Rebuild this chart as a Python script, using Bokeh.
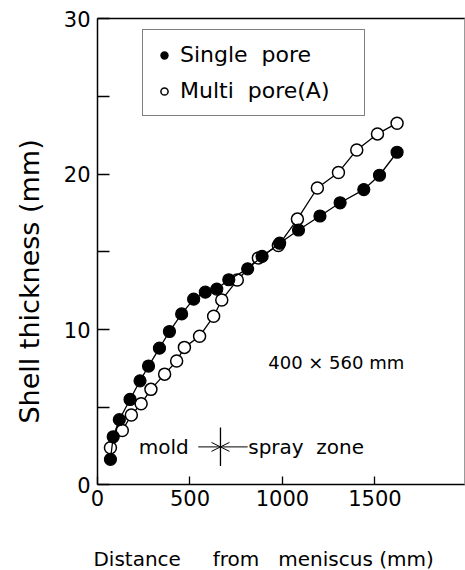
from math import pi
from bokeh.plotting import figure
from bokeh.models import (FixedTicker, Legend, LegendItem, Label, Arrow,
                          OpenHead, Range1d, LinearAxis)
from bokeh.embed import file_html
from bokeh.resources import INLINE

# ---- data ----
single_x = [70, 85, 118, 176, 230, 276, 335, 389, 455, 520, 583, 645, 710,
            812, 890, 985, 1087, 1203, 1312, 1440, 1525, 1620]
single_y = [1.65, 3.1, 4.2, 5.5, 6.7, 7.65, 8.8, 9.87, 11.0, 11.95, 12.4,
            12.6, 13.2, 13.9, 14.7, 15.55, 16.4, 17.3, 18.15, 19.0, 19.92, 21.4]
multi_x = [70, 134, 183, 236, 289, 363, 428, 470, 552, 628, 672, 756, 870,
           978, 1081, 1189, 1303, 1402, 1514, 1620]
multi_y = [2.4, 3.5, 4.5, 5.22, 6.15, 7.13, 7.97, 8.85, 9.57, 10.85, 11.9,
           13.18, 14.6, 15.4, 17.1, 19.1, 20.1, 21.55, 22.58, 23.27]
x_ticks = [0, 500, 1000, 1500]
y_ticks = [0, 10, 20, 30]
y_minor = [5, 15, 25]
series_names = ["Single\u00a0\u00a0pore", "Multi\u00a0\u00a0pore(A)"]
x_title = "Distance\u00a0\u00a0\u00a0\u00a0\u00a0from\u00a0\u00a0\u00a0meniscus\u00a0(mm)"
y_title = "Shell thickness (mm)"
mold_end = 665          # mm, end of mold / start of spray zone
FONT = "DejaVu Sans"

# the frame fills the canvas; axes are pinned at x = 0 and y = 0
p = figure(width=465, height=570, x_range=Range1d(-524.5, 1990),
           y_range=Range1d(-5.5, 31.16),
           output_backend="svg", toolbar_location=None,
           min_border_left=0, min_border_right=0, min_border_top=0,
           min_border_bottom=0)
p.background_fill_color = "white"
p.border_fill_color = "white"
p.outline_line_color = None
p.xgrid.visible = False
p.ygrid.visible = False

xax = p.xaxis[0]
yax = p.yaxis[0]
xax.fixed_location = 0
xax.bounds = (0, 1990)
yax.fixed_location = 0
yax.bounds = (0, 30)
for ax in (xax, yax):
    ax.axis_line_color = "black"
    ax.axis_line_width = 1.5
    ax.major_tick_line_color = "black"
    ax.major_tick_line_width = 1.3
    ax.minor_tick_line_color = "black"
    ax.minor_tick_line_width = 1.3
    ax.major_tick_out = 0
    ax.minor_tick_out = 0
    ax.major_label_text_font = FONT
    ax.major_label_text_font_size = "21px"
    ax.major_label_text_color = "black"

xax.ticker = FixedTicker(ticks=x_ticks)
xax.major_tick_in = 8
xax.minor_tick_in = 0
xax.major_label_standoff = 5
yax.ticker = FixedTicker(ticks=y_ticks, minor_ticks=y_minor)
yax.major_tick_in = 12
yax.minor_tick_in = 12
yax.major_label_standoff = 7

# top and right frame lines
top_ax = LinearAxis(fixed_location=30, bounds=(0, 1990), ticker=FixedTicker(ticks=[]),
                    axis_line_color="black", axis_line_width=1.5,
                    major_tick_in=0, major_tick_out=0, minor_tick_in=0,
                    minor_tick_out=0, major_label_text_font_size="0px")
p.add_layout(top_ax, "above")
right_ax = LinearAxis(fixed_location=1984, bounds=(0, 30), ticker=FixedTicker(ticks=[]),
                      axis_line_color="#9a9a9a", axis_line_width=1,
                      major_tick_in=0, major_tick_out=0, minor_tick_in=0,
                      minor_tick_out=0, major_label_text_font_size="0px")
p.add_layout(right_ax, "right")

# series
p.line(multi_x, multi_y, line_color="black", line_width=1.3)
r_multi = p.scatter(multi_x, multi_y, size=12, fill_color="white",
                    line_color="black", line_width=1.5)
p.line(single_x, single_y, line_color="black", line_width=1.3)
r_single = p.scatter(single_x, single_y, size=12, fill_color="black",
                     line_color="black", line_width=1.2)

legend = Legend(items=[LegendItem(label=series_names[0], renderers=[r_single]),
                       LegendItem(label=series_names[1], renderers=[r_multi])],
                location=(142, 454), padding=12, spacing=11,
                glyph_width=18, glyph_height=24, label_height=24,
                label_width=172, label_standoff=7, label_text_font=FONT,
                label_text_font_size="22px", label_text_color="black",
                border_line_color="black", border_line_width=1.5,
                background_fill_alpha=1.0)
p.add_layout(legend)

# axis titles
p.add_layout(Label(x=-370, y=13.09, text=y_title, angle=pi / 2,
                   text_align="center", text_baseline="middle",
                   text_font=FONT, text_font_size="27px", text_color="black"))
p.add_layout(Label(x=-22, y=-4.75, text=x_title, text_align="left",
                   text_baseline="middle", text_font=FONT, text_font_size="20px",
                   text_color="black"))

# annotations
p.add_layout(Label(x=1291, y=7.86, text="400 \u00d7 560 mm", text_align="center",
                   text_baseline="middle", text_font=FONT, text_font_size="18px",
                   text_color="black"))
p.add_layout(Label(x=493, y=2.45, text="mold", text_align="right",
                   text_baseline="middle", text_font=FONT, text_font_size="20px",
                   text_color="black"))
p.add_layout(Label(x=815, y=2.45, text="spray\u00a0\u00a0zone", text_align="left",
                   text_baseline="middle", text_font=FONT, text_font_size="20px",
                   text_color="black"))
p.add_layout(Arrow(x_start=545, y_start=2.45, x_end=mold_end, y_end=2.45,
                   line_width=1, line_color="black",
                   end=OpenHead(size=9, line_width=1, line_color="black")))
p.add_layout(Arrow(x_start=812, y_start=2.45, x_end=mold_end, y_end=2.45,
                   line_width=1, line_color="black",
                   end=OpenHead(size=9, line_width=1, line_color="black")))
p.segment(x0=[mold_end], y0=[1.22], x1=[mold_end], y1=[3.69],
          line_color="black", line_width=1.3)

open("out.html", "w").write(file_html(p, INLINE))
